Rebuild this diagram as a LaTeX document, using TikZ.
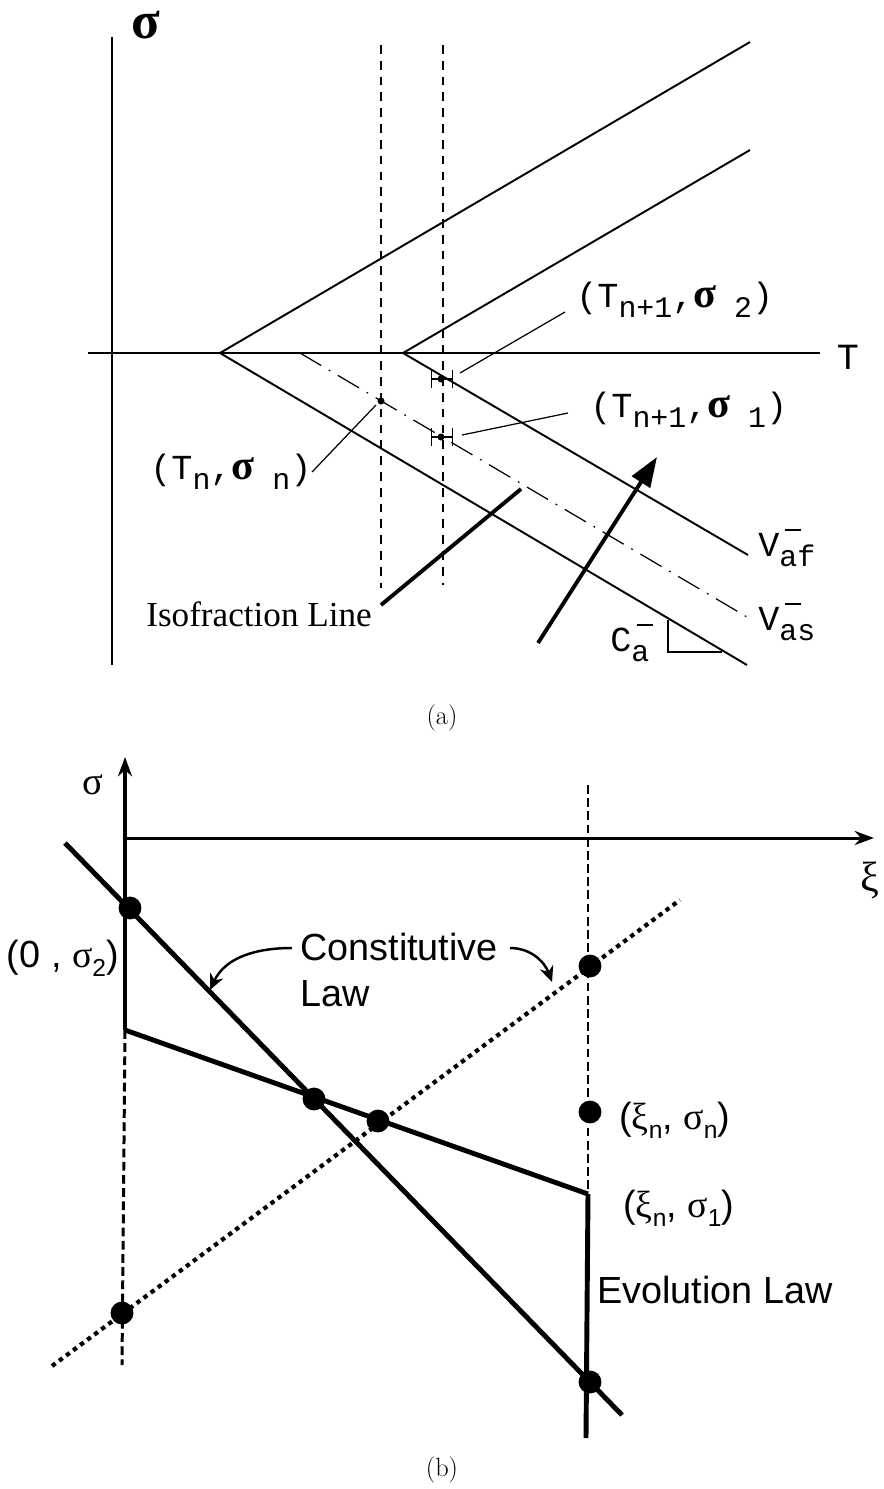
\documentclass[tikz,border=0pt]{standalone}
\usepackage{fontspec}
\newfontfamily\monofam{Liberation Mono}
\newfontfamily\sansfam{Liberation Sans}
\newfontfamily\seriffam{Liberation Serif}
\usetikzlibrary{arrows.meta}
\newcommand{\lowsub}[1]{\raisebox{-0.55ex}{\fontsize{17}{17}\selectfont #1}}
\newcommand{\barsub}[1]{\rlap{\kern3pt\raisebox{14pt}{\rule{9pt}{1.1pt}}}\lowsub{#1}}
\newcommand{\bsig}{{\seriffam\bfseries\fontsize{24}{24}\selectfont σ}}
\newcommand{\gk}[1]{{\seriffam #1}}
\newcommand{\ssub}[1]{\raisebox{-0.45ex}{\fontsize{14}{14}\selectfont #1}}

\begin{document}
\begin{tikzpicture}[x=0.02cm, y=-0.02cm,
    >={Stealth[length=11pt, width=8pt]},
    every node/.style={inner sep=0pt},
    thinln/.style={line width=1.1pt},
    guide/.style={line width=0.8pt, dash pattern=on 5pt off 4pt},
    isoln/.style={line width=0.7pt, dash pattern=on 14pt off 5pt on 1pt off 5pt},
    leader/.style={line width=0.7pt},
    ebar/.style={{Bar[width=10pt]}-{Bar[width=10pt]}, line width=0.7pt},
    monolbl/.style={font=\fontsize{20}{22}\selectfont\monofam},
    sanslbl/.style={font=\fontsize{21.5}{26.6}\selectfont\sansfam},
    thickln/.style={line width=2.8pt},
    vdash/.style={line width=1.7pt, dash pattern=on 5pt off 2.5pt},
    dotln/.style={line width=2.4pt, dash pattern=on 2.5pt off 2.5pt},
    bdot/.style={circle, fill=black, minimum size=13pt},
    sdot/.style={circle, fill=black, minimum size=4pt},
    curvarrow/.style={->, >={Stealth[length=9pt, width=8pt]}, line width=1.4pt}
]
\useasboundingbox (0,0) rectangle (884,1489);

% ---- (a) ----
\coordinate (sbot) at (112,665);
\coordinate (stop) at (112,37);
\coordinate (tleft) at (88,353);
\coordinate (tright) at (820,353);
\draw[thinln] (sbot) -- (stop);
\draw[thinln] (tleft) -- (tright);
\node[font=\fontsize{30}{30}\selectfont\seriffam\bfseries] (siglbl) at (146,25) {σ};
\node[font=\fontsize{21}{22}\selectfont\monofam] (tlbl) at (848,357) {T};

\coordinate (apexA) at (220,353);
\coordinate (apexB) at (403,353);
\coordinate (upA) at (750,42);
\coordinate (loA) at (747,665);
\coordinate (upB) at (750,150);
\coordinate (loB) at (748,555);
\draw[thinln] (upA) -- (apexA) -- (loA);
\draw[thinln] (upB) -- (apexB) -- (loB);

\coordinate (isoA) at (300,353);
\coordinate (isoB) at (747,617);
\draw[isoln] (isoA) -- (isoB);

\coordinate (gnTop) at (381,45);
\coordinate (gnBot) at (381,588);
\coordinate (g1Top) at (443,45);
\coordinate (g1Bot) at (443,585);
\draw[guide] (gnTop) -- (gnBot);
\draw[guide] (g1Top) -- (g1Bot);

\node[sdot] (pn) at (381,401) {};
\node[sdot] (ptwo) at (441,379) {};
\node[sdot] (pone) at (441,437) {};
\draw[ebar] (431,379) -- (453,379);
\draw[ebar] (431,437) -- (453,437);

\node[monolbl, anchor=west] (lbltwo) at (576,300) {(T\lowsub{n+1},\bsig\lowsub{ 2})};
\node[monolbl, anchor=west] (lblone) at (590,410) {(T\lowsub{n+1},\bsig\lowsub{ 1})};
\node[monolbl, anchor=west] (lbln) at (150,472) {(T\lowsub{n},\bsig\lowsub{ n})};

\coordinate (ltwoA) at (460,373);
\coordinate (ltwoB) at (565,312);
\coordinate (loneA) at (462,435);
\coordinate (loneB) at (568,413);
\coordinate (lnA) at (312,472);
\coordinate (lnB) at (376,405);
\draw[leader] (ltwoA) -- (ltwoB);
\draw[leader] (loneA) -- (loneB);
\draw[leader] (lnA) -- (lnB);

\node[font=\fontsize{20}{22}\selectfont\seriffam, anchor=west] (isolbl) at (146,614) {Isofraction Line};
\coordinate (isoFoot) at (381,605);
\coordinate (isoHead) at (521,489);
\draw[line width=2.2pt] (isoFoot) -- (isoHead);

\coordinate (arrTail) at (538,643);
\coordinate (arrTip) at (657,457);
\draw[-{Triangle[length=17pt, width=12pt]}, line width=2.2pt] (arrTail) -- (arrTip);

\node[monolbl, anchor=west] (vaf) at (758,548) {V\barsub{af}};
\node[monolbl, anchor=west] (vas) at (758,622) {V\barsub{as}};
\node[monolbl, anchor=west] (ca) at (610,643) {C\barsub{a}};

\coordinate (triA) at (668,620);
\coordinate (triB) at (668,652);
\coordinate (triC) at (722,652);
\draw[line width=1.6pt] (triA) -- (triB) -- (triC);

\node[font=\fontsize{15}{18}\selectfont] (capa) at (442,718) {(a)};

% ---- (b) ----
\coordinate (sgBot) at (125,1030);
\coordinate (sgTop) at (125,757);
\coordinate (xiLeft) at (125,838);
\coordinate (xiRight) at (874,838);
\draw[->, line width=2.3pt] (sgBot) -- (sgTop);
\draw[->, line width=1.7pt] (xiLeft) -- (xiRight);
\node[font=\fontsize{22}{22}\selectfont\seriffam] (sglbl) at (93,785) {σ};
\node[font=\fontsize{24}{24}\selectfont\seriffam] (xilbl) at (870,880) {ξ};

\coordinate (vlBot) at (122,1365);
\coordinate (vrTop) at (588,785);
\coordinate (vrMid) at (588,1194);
\coordinate (vrBot) at (586,1438);
\draw[vdash] (sgBot) -- (vlBot);
\draw[vdash] (vrTop) -- (vrMid);
\draw[thickln] (vrMid) -- (vrBot);

\coordinate (clA) at (65,843);
\coordinate (clB) at (622,1415);
\draw[thickln] (clA) -- (clB);
\draw[thickln] (sgBot) -- (vrMid);

\coordinate (dlA) at (52,1366);
\coordinate (dlB) at (680,900);
\draw[dotln] (dlA) -- (dlB);

\node[bdot] (dtop) at (130,908) {};
\node[bdot] (dcross) at (314,1099) {};
\node[bdot] (dmid) at (378,1121) {};
\node[bdot] (dright) at (590,966) {};
\node[bdot] (dn) at (590,1112) {};
\node[bdot] (dleft) at (122,1313) {};
\node[bdot] (dbot) at (590,1382) {};

\node[sanslbl, align=left, anchor=west] (lblcl) at (300,970) {Constitutive\\Law};
\coordinate (caL) at (292,948);
\coordinate (caLtip) at (210,990);
\coordinate (caR) at (510,948);
\coordinate (caRtip) at (552,982);
\draw[curvarrow] (caL) to[out=180, in=65] (caLtip);
\draw[curvarrow] (caR) to[out=0, in=110] (caRtip);

\node[sanslbl, anchor=east] (lblzero) at (119,958) {(0 , \gk{σ}\ssub{2})};
\node[sanslbl, anchor=west] (lblsn) at (619,1120) {(\gk{ξ}\ssub{n}, \gk{σ}\ssub{n})};
\node[sanslbl, anchor=west] (lblsone) at (623,1208) {(\gk{ξ}\ssub{n}, \gk{σ}\ssub{1})};
\node[sanslbl, anchor=west] (lblev) at (597,1290) {Evolution Law};

\node[font=\fontsize{15}{18}\selectfont] (capb) at (442,1470) {(b)};
\end{tikzpicture}
\end{document}
